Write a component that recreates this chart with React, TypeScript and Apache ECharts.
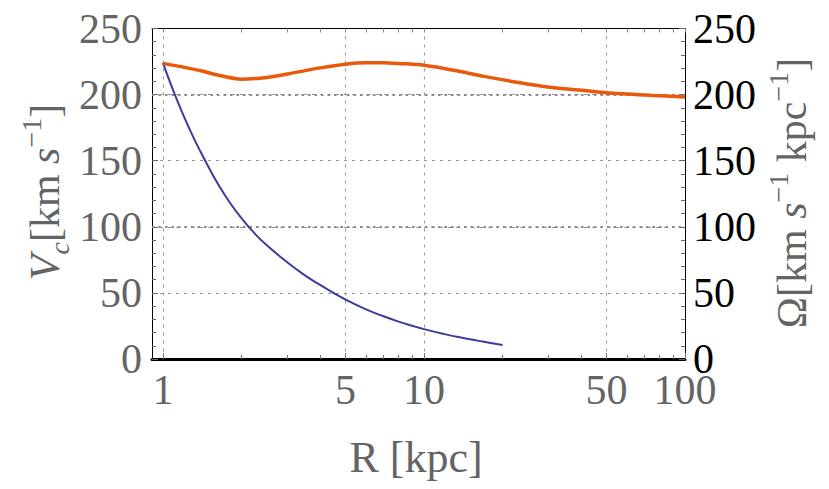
import React, { useEffect, useRef } from 'react';
import * as echarts from 'echarts';

// Circular velocity V_c (orange)
const vcRadius = [1, 1.4, 1.6, 2, 2.5, 3, 4, 5, 6, 7, 8, 10, 13, 17, 23, 31, 42, 50, 75, 100];
const vcValues = [223.6, 218, 215, 211.6, 213, 215.6, 220.2, 223, 224, 224, 223.5, 222.2, 218.4, 213.8, 209.2, 205.4, 202.9, 201.4, 199.4, 198.2];

// Angular velocity Omega (blue)
const omegaRadius = [1, 1.1, 1.2, 1.3, 1.4, 1.5, 1.6, 1.8, 2, 2.25, 2.5, 3, 3.5, 4, 4.5, 5, 6, 7, 8, 9, 10, 12, 14, 16, 18, 20];
const omegaValues = [224, 202, 184, 168.8, 156, 144.6, 134.6, 118.6, 106.5, 94.8, 86, 73, 63.3, 56, 50, 45, 37.5, 32.3, 28.3, 25.2, 22.6, 18.8, 16, 13.9, 12.1, 10.6];

// Tick labels
const majorTickR = [1, 5, 10, 50, 100];
const minorTickR = [2, 3, 4, 6, 7, 8, 9, 20, 30, 40, 60, 70, 80, 90];
const yTicks = { min: 0, max: 250, interval: 50 };

const FONT = '"Liberation Serif", "DejaVu Serif", serif';
const GRAY = '#646464';

export default function App() {
  const ref = useRef<HTMLDivElement>(null);

  useEffect(() => {
    if (!ref.current) return;
    const chart = echarts.init(ref.current, undefined, { renderer: 'svg' });
    const lg = (r: number) => Math.log10(r);
    const majors = majorTickR.map(lg);
    const minors = minorTickR.map(lg);
    const X_MIN = -0.042;
    const X_MAX = 2;

    const xBase = { type: 'value', min: X_MIN, max: X_MAX };

    const option: any = {
      animation: false,
      backgroundColor: '#ffffff',
      grid: { left: 152, right: 144, top: 28.5, bottom: 130, containLabel: false },
      xAxis: [
        {
          ...xBase,
          position: 'bottom',
          axisLine: { show: true, onZero: false, lineStyle: { color: '#000', width: 3 } },
          axisTick: { show: true, inside: true, length: 6, customValues: majors, lineStyle: { color: '#777', width: 1 } },
          axisLabel: {
            show: true,
            customValues: majors,
            formatter: (v: number) => String(Math.round(Math.pow(10, v))),
            fontSize: 42,
            fontFamily: FONT,
            color: GRAY,
            margin: 10,
          },
          splitLine: { show: true, lineStyle: { color: '#969696', width: 1, type: [3, 5] } },
        },
        {
          ...xBase,
          position: 'bottom',
          axisLine: { show: false, onZero: false },
          axisTick: { show: true, inside: true, length: 4, customValues: minors, lineStyle: { color: '#777', width: 1 } },
          axisLabel: { show: false },
          splitLine: { show: false },
        },
        {
          ...xBase,
          position: 'top',
          axisLine: { show: true, onZero: false, lineStyle: { color: '#000', width: 1 } },
          axisTick: { show: true, inside: true, length: 4, customValues: [...majors, ...minors], lineStyle: { color: '#888', width: 1 } },
          axisLabel: { show: false },
          splitLine: { show: false },
        },
      ],
      yAxis: [
        {
          type: 'value',
          ...yTicks,
          position: 'left',
          axisLine: { show: true, onZero: false, lineStyle: { color: '#000', width: 1 } },
          axisTick: { show: true, inside: true, length: 6, lineStyle: { color: '#666' } },
          minorTick: { show: true, splitNumber: 5, length: 4, lineStyle: { color: '#666' } },
          axisLabel: { fontSize: 42, fontFamily: FONT, color: GRAY, margin: 10 },
          splitLine: { show: true, lineStyle: { color: '#969696', width: 1, type: [3, 5] } },
        },
        {
          type: 'value',
          ...yTicks,
          position: 'right',
          axisLine: { show: true, onZero: false, lineStyle: { color: '#000', width: 1 } },
          axisTick: { show: true, inside: true, length: 6, lineStyle: { color: '#666' } },
          minorTick: { show: true, splitNumber: 5, length: 4, lineStyle: { color: '#666' } },
          axisLabel: { fontSize: 42, fontFamily: FONT, color: '#000', margin: 8 },
          splitLine: { show: false },
        },
      ],
      series: [
        {
          type: 'line',
          xAxisIndex: 0,
          yAxisIndex: 0,
          data: vcRadius.map((r, i) => [lg(r), vcValues[i]]),
          smooth: 0.3,
          showSymbol: false,
          symbol: 'none',
          lineStyle: { color: '#E8590C', width: 3.5 },
          z: 4,
          markLine: {
            silent: true,
            symbol: 'none',
            label: { show: false },
            lineStyle: { color: '#8a8a8a', width: 2, type: [2.5, 4] },
            data: [{ yAxis: 100 }, { yAxis: 200 }],
            z: 1,
          },
        },
        {
          type: 'line',
          xAxisIndex: 0,
          yAxisIndex: 1,
          data: omegaRadius.map((r, i) => [lg(r), omegaValues[i]]),
          smooth: 0.5,
          showSymbol: false,
          symbol: 'none',
          lineStyle: { color: '#3D3D99', width: 2 },
          z: 3,
        },
      ],
      graphic: [
        {
          type: 'text',
          x: 45,
          y: 192,
          rotation: Math.PI / 2,
          style: {
            text: '{i|V}{isub|c}{r|[km }{i|s}{sup|−1}{r|]}',
            align: 'center',
            verticalAlign: 'middle',
            rich: {
              r: { fontSize: 42, fontFamily: FONT, fill: GRAY, color: GRAY, lineHeight: 56 },
              i: { fontSize: 42, fontFamily: FONT, fontStyle: 'italic', fill: GRAY, color: GRAY, lineHeight: 56 },
              isub: { fontSize: 28, fontFamily: FONT, fontStyle: 'italic', fill: GRAY, color: GRAY, lineHeight: 30, verticalAlign: 'bottom' },
              sup: { fontSize: 28, fontFamily: FONT, fill: GRAY, color: GRAY, lineHeight: 30, verticalAlign: 'top' },
            },
          },
        },
        {
          type: 'text',
          x: 792,
          y: 193,
          rotation: Math.PI / 2,
          style: {
            text: '{r|Ω[km }{i|s}{sup|−1}{r| kpc}{sup|−1}{r|]}',
            align: 'center',
            verticalAlign: 'middle',
            rich: {
              r: { fontSize: 42, fontFamily: FONT, fill: GRAY, color: GRAY, lineHeight: 56 },
              i: { fontSize: 42, fontFamily: FONT, fontStyle: 'italic', fill: GRAY, color: GRAY, lineHeight: 56 },
              sup: { fontSize: 28, fontFamily: FONT, fill: GRAY, color: GRAY, lineHeight: 30, verticalAlign: 'top' },
            },
          },
        },
        {
          type: 'text',
          x: 416,
          y: 457,
          style: {
            text: 'R [kpc]',
            align: 'center',
            verticalAlign: 'middle',
            fontSize: 44,
            fontFamily: FONT,
            fill: GRAY,
          },
        },
      ],
    };

    chart.setOption(option);
    return () => chart.dispose();
  }, []);

  return (
    <div
      ref={ref}
      style={{ position: 'fixed', left: 0, top: 0, width: 829, height: 489, background: '#fff' }}
    />
  );
}
